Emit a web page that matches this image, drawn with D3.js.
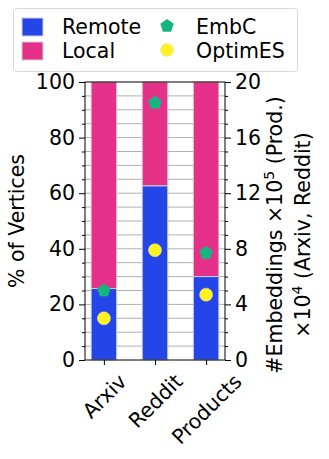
<!DOCTYPE html>
<html>
  <head>
    <meta charset="utf-8">
    <title>Remote vs Local vertices</title>
    <script src="https://d3js.org/d3.v7.min.js"></script>
    <style>
      body { margin: 0; background: white; }
      svg text { font-family: "DejaVu Sans", sans-serif; fill: #000; }
    </style>
  </head>
  <body>
    <div id="chart"></div>
    <script>
      // data
      var datasets = ["Arxiv", "Reddit", "Products"];
      var remotePct = [25.7, 62.6, 30.0];
      var embC = [5.0, 18.5, 7.7];
      var optimES = [3.0, 7.9, 4.7];
      var leftTicks = [0, 20, 40, 60, 80, 100];
      var rightTicks = [0, 4, 8, 12, 16, 20];

      var width = 329, height = 459;
      var margin = { left: 85, right: 104, top: 82, bottom: 99 };
      var fs = 20.5;

      var svg = d3.select("#chart").append("svg")
        .attr("width", width)
        .attr("height", height);

      var x = d3.scaleLinear()
        .domain([-0.37, 2.37])
        .range([margin.left, width - margin.right]);
      var y = d3.scaleLinear()
        .domain([0, 100])
        .range([height - margin.bottom, margin.top]);
      var y2 = d3.scaleLinear()
        .domain([0, 20])
        .range([height - margin.bottom, margin.top]);

      var barW = x(0.5) - x(0);

      // grid every 5%
      svg.append("g").selectAll("line")
        .data(d3.range(5, 100, 5))
        .enter().append("line")
        .attr("x1", margin.left).attr("x2", width - margin.right)
        .attr("y1", function(d) { return y(d); })
        .attr("y2", function(d) { return y(d); })
        .attr("stroke", "#b0b0b0")
        .attr("stroke-width", 1);

      // stacked bars
      var bars = svg.append("g");
      bars.selectAll(".local")
        .data(datasets).enter().append("rect")
        .attr("x", function(d, i) { return x(i) - barW / 2; })
        .attr("width", barW)
        .attr("y", y(100))
        .attr("height", function(d, i) { return y(remotePct[i]) - y(100); })
        .attr("fill", "#e6318a")
        .attr("stroke", "#d0d0d0").attr("stroke-width", 1);
      bars.selectAll(".remote")
        .data(datasets).enter().append("rect")
        .attr("x", function(d, i) { return x(i) - barW / 2; })
        .attr("width", barW)
        .attr("y", function(d, i) { return y(remotePct[i]); })
        .attr("height", function(d, i) { return y(0) - y(remotePct[i]); })
        .attr("fill", "#2446e8")
        .attr("stroke", "#d0d0d0").attr("stroke-width", 1);

      // markers
      function pentagon(r) {
        var pts = [];
        for (var k = 0; k < 5; k++) {
          var a = -Math.PI / 2 + k * 2 * Math.PI / 5;
          pts.push([r * Math.cos(a), r * Math.sin(a)]);
        }
        return "M" + pts.join("L") + "Z";
      }
      svg.append("g").selectAll("path")
        .data(embC).enter().append("path")
        .attr("d", pentagon(7))
        .attr("transform", function(d, i) { return "translate(" + x(i) + "," + y2(d) + ")"; })
        .attr("fill", "#14b57e");
      svg.append("g").selectAll("circle")
        .data(optimES).enter().append("circle")
        .attr("cx", function(d, i) { return x(i); })
        .attr("cy", function(d) { return y2(d); })
        .attr("r", 6.5)
        .attr("fill", "#fff21e")
        .attr("stroke", "#e8e8c0").attr("stroke-width", 0.5);

      // frame
      svg.append("rect")
        .attr("x", margin.left).attr("y", margin.top)
        .attr("width", width - margin.right - margin.left)
        .attr("height", height - margin.bottom - margin.top)
        .attr("fill", "none").attr("stroke", "#000").attr("stroke-width", 1);

      // left axis
      var yAxis = d3.axisLeft(y).tickValues(leftTicks).tickSize(6).tickPadding(4);
      var gl = svg.append("g").attr("transform", "translate(" + margin.left + ",0)").call(yAxis);
      gl.select(".domain").remove();
      gl.selectAll("text").style("font-size", fs + "px").style("font-family", "DejaVu Sans");
      svg.append("g").attr("transform", "translate(" + margin.left + ",0)")
        .call(d3.axisLeft(y).tickValues(d3.range(5, 100, 5).filter(function(v) { return v % 20; })).tickSize(3).tickFormat(""))
        .select(".domain").remove();

      // right axis
      var gr = svg.append("g").attr("transform", "translate(" + (width - margin.right) + ",0)")
        .call(d3.axisRight(y2).tickValues(rightTicks).tickSize(6).tickPadding(4));
      gr.select(".domain").remove();
      gr.selectAll("text").style("font-size", fs + "px").style("font-family", "DejaVu Sans");
      svg.append("g").attr("transform", "translate(" + (width - margin.right) + ",0)")
        .call(d3.axisRight(y2).tickValues(d3.range(1, 20).filter(function(v) { return v % 4; })).tickSize(3).tickFormat(""))
        .select(".domain").remove();

      // bottom axis, labels rotated 45 and centred under the tick
      var gb = svg.append("g").attr("transform", "translate(0," + (height - margin.bottom) + ")")
        .call(d3.axisBottom(x).tickValues([0, 1, 2]).tickSize(5).tickFormat(function(d) { return datasets[d]; }));
      gb.select(".domain").remove();
      gb.selectAll("text")
        .style("font-size", fs + "px").style("font-family", "DejaVu Sans")
        .attr("text-anchor", "middle")
        .attr("dy", "0.35em")
        .attr("y", 0).attr("x", 0)
        .attr("transform", function() {
          var len = this.getComputedTextLength();
          var half = (len + fs * 0.8) / (2 * Math.SQRT2);
          return "translate(0," + (12 + half) + ") rotate(-45)";
        });

      // axis titles
      svg.append("text")
        .attr("transform", "translate(24," + (y(50)) + ") rotate(-90)")
        .attr("text-anchor", "middle")
        .style("font-size", fs + "px")
        .text("% of Vertices");

      var rt = svg.append("text")
        .attr("transform", "translate(282," + (y(50) + 14) + ") rotate(-90)")
        .attr("text-anchor", "middle")
        .style("font-size", fs + "px");
      var l1 = rt.append("tspan").attr("x", 0).attr("y", 0);
      l1.append("tspan").text("#Embeddings \u00d710");
      l1.append("tspan").attr("dy", -8).style("font-size", "14px").text("5");
      l1.append("tspan").attr("dy", 8).text(" (Prod.)");
      var l2 = rt.append("tspan").attr("x", 0).attr("y", 28);
      l2.append("tspan").text("\u00d710");
      l2.append("tspan").attr("dy", -8).style("font-size", "14px").text("4");
      l2.append("tspan").attr("dy", 8).text(" (Arxiv, Reddit)");

      // legend
      var lg = svg.append("g");
      lg.append("rect")
        .attr("x", 13.5).attr("y", 8.5).attr("width", 284).attr("height", 63).attr("rx", 3)
        .attr("fill", "white").attr("stroke", "#d8d8d8");
      var legendSeries = [
        { label: "Remote", kind: "rect", color: "#2446e8", col: 0, row: 0 },
        { label: "Local", kind: "rect", color: "#e6318a", col: 0, row: 1 },
        { label: "EmbC", kind: "pent", color: "#14b57e", col: 1, row: 0 },
        { label: "OptimES", kind: "circ", color: "#fff21e", col: 1, row: 1 }
      ];
      legendSeries.forEach(function(s) {
        var ox = s.col === 0 ? 22 : 167;
        var cy = 27 + s.row * 24;
        if (s.kind === "rect") {
          lg.append("rect").attr("x", ox).attr("y", cy - 9).attr("width", 21).attr("height", 18)
            .attr("fill", s.color).attr("stroke", "#d0d0d0");
        } else if (s.kind === "pent") {
          lg.append("path").attr("d", pentagon(7)).attr("transform", "translate(" + ox + "," + (cy - 1) + ")")
            .attr("fill", s.color);
        } else {
          lg.append("circle").attr("cx", ox).attr("cy", cy - 1).attr("r", 6.5)
            .attr("fill", s.color).attr("stroke", "#e0e0c0").attr("stroke-width", 0.5);
        }
        lg.append("text")
          .attr("x", s.col === 0 ? 62 : 196)
          .attr("y", cy + 7)
          .style("font-size", fs + "px")
          .text(s.label);
      });
    </script>
  </body>
</html>
